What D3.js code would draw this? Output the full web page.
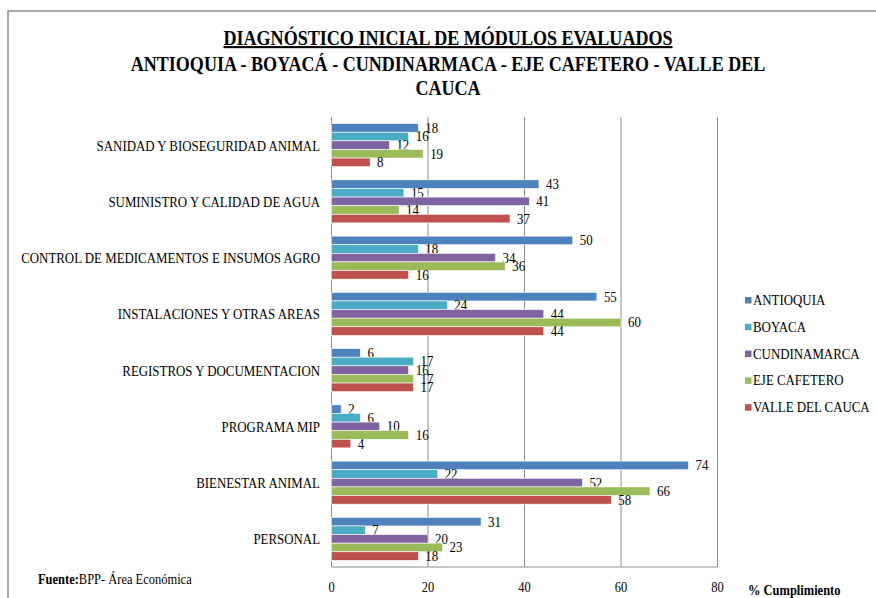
<!DOCTYPE html>
<html>
<head>
<meta charset="utf-8">
<script src="https://cdn.jsdelivr.net/npm/d3@7"></script>
<style>
  body { margin: 0; background: #fff; }
</style>
</head>
<body>
<div id="chart"></div>
<script>
// categories, top to bottom
const categories = [
  "SANIDAD Y BIOSEGURIDAD ANIMAL",
  "SUMINISTRO Y CALIDAD DE AGUA",
  "CONTROL DE MEDICAMENTOS E INSUMOS AGRO",
  "INSTALACIONES Y OTRAS AREAS",
  "REGISTROS Y DOCUMENTACION",
  "PROGRAMA MIP",
  "BIENESTAR ANIMAL",
  "PERSONAL"
];
const seriesNames = ["ANTIOQUIA", "BOYACA", "CUNDINAMARCA", "EJE CAFETERO", "VALLE DEL CAUCA"];
const antioquia = [18, 43, 50, 55, 6, 2, 74, 31];
const boyaca = [16, 15, 18, 24, 17, 6, 22, 7];
const cundinamarca = [12, 41, 34, 44, 16, 10, 52, 20];
const ejeCafetero = [19, 14, 36, 60, 17, 16, 66, 23];
const valleDelCauca = [8, 37, 16, 44, 17, 4, 58, 18];
const xTicks = [0, 20, 40, 60, 80];
const colors = ["#4F81BD", "#4BACC6", "#8064A2", "#9BBB59", "#C0504D"];

const allSeries = [antioquia, boyaca, cundinamarca, ejeCafetero, valleDelCauca];

const width = 876, height = 598;
const sx = 0.86; // the original text is horizontally condensed
const serif = "'Times New Roman', 'Liberation Serif', serif";

const svg = d3.select("#chart").append("svg").attr("width", width).attr("height", height);

// outer frame
svg.append("path")
  .attr("d", `M8,${height} L8,11 L${width},11`)
  .attr("fill", "none").attr("stroke", "#8c8c8c").attr("stroke-width", 1.5);

// helper for condensed text
const addText = (sel, x, y, txt, opts = {}) => {
  const t = sel.append("text")
    .attr("transform", `translate(${x},${y}) scale(${opts.sx || sx},1)`)
    .attr("text-anchor", opts.anchor || "start")
    .attr("font-family", serif)
    .attr("font-size", opts.size || 14)
    .attr("font-weight", opts.weight || "normal")
    .attr("fill", "#000");
  if (opts.baseline) t.attr("dominant-baseline", opts.baseline);
  if (opts.underline) t.attr("text-decoration", "underline");
  t.text(txt);
  return t;
};

// title
addText(svg, 448, 45, "DIAGNÓSTICO INICIAL DE MÓDULOS EVALUADOS", { anchor: "middle", size: 21, weight: "bold", underline: true });
addText(svg, 448, 71, "ANTIOQUIA - BOYACÁ - CUNDINARMACA - EJE CAFETERO - VALLE DEL", { anchor: "middle", size: 21, weight: "bold" });
addText(svg, 448, 95, "CAUCA", { anchor: "middle", size: 21, weight: "bold" });

// scales
const x = d3.scaleLinear().domain([0, 80]).range([331.5, 717.5]);
const y = d3.scaleBand().domain(categories).range([117, 567]).paddingInner(0.235).paddingOuter(0.1175);
const yInner = d3.scaleBand().domain(seriesNames).range([0, y.bandwidth()]);

// gridlines
svg.append("g").selectAll("line").data(xTicks.slice(1)).join("line")
  .attr("x1", d => x(d)).attr("x2", d => x(d))
  .attr("y1", 117).attr("y2", 567)
  .attr("stroke", "#8c8c8c").attr("stroke-width", 1);

// axis lines
svg.append("line").attr("x1", x(0)).attr("x2", x(0)).attr("y1", 117).attr("y2", 567)
  .attr("stroke", "#8c8c8c").attr("stroke-width", 1);
svg.append("line").attr("x1", x(0)).attr("x2", x(80)).attr("y1", 567).attr("y2", 567)
  .attr("stroke", "#8c8c8c").attr("stroke-width", 1);

// tick labels
xTicks.forEach(t => addText(svg, x(t), 592, t, { anchor: "middle", size: 14.5 }));

// category labels
categories.forEach(c => addText(svg, 320, y(c) + y.bandwidth() / 2 + 2, c, { anchor: "end", size: 15, baseline: "middle" }));

// bars
const groups = svg.append("g").selectAll("g").data(categories).join("g")
  .attr("transform", c => `translate(0,${y(c)})`);

groups.each(function (c, ci) {
  const g = d3.select(this);
  seriesNames.forEach((s, si) => {
    const v = allSeries[si][ci];
    g.append("rect")
      .attr("x", x(0)).attr("y", yInner(s))
      .attr("width", x(v) - x(0)).attr("height", yInner.bandwidth())
      .attr("fill", colors[si])
      .attr("stroke", "#fff").attr("stroke-width", 0.6);
    addText(g, x(v) + 7, yInner(s) + yInner.bandwidth() / 2 + 1.5, v, { size: 15, baseline: "middle" });
  });
});

// legend
const legend = svg.append("g");
seriesNames.forEach((s, i) => {
  const ly = 300 + i * 26.8;
  legend.append("rect").attr("x", 745).attr("y", ly - 3).attr("width", 6.5).attr("height", 6.5).attr("fill", colors[i]);
  addText(legend, 753, ly + 5, s, { size: 15 });
});

// footnote and axis title
const f = svg.append("text").attr("transform", `translate(38,584) scale(${sx},1)`)
  .attr("font-family", serif).attr("font-size", 14.5).attr("fill", "#000");
f.append("tspan").attr("font-weight", "bold").text("Fuente:");
f.append("tspan").text("BPP- Área Económica");
addText(svg, 748, 595, "% Cumplimiento", { size: 14.5, weight: "bold" });
</script>
</body>
</html>
